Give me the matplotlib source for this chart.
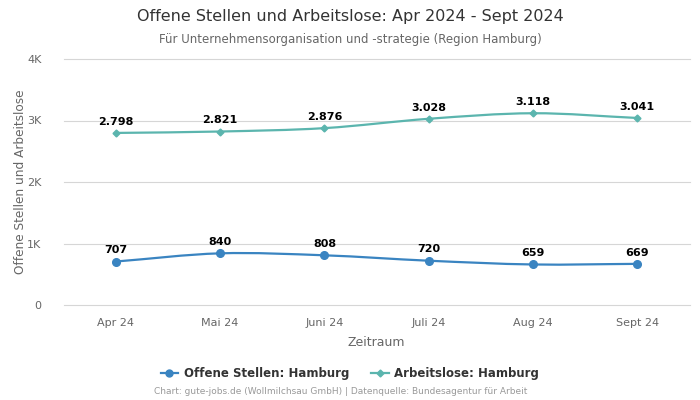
import numpy as np
import matplotlib
matplotlib.use('Agg')
import matplotlib.pyplot as plt
from matplotlib.path import Path
from matplotlib.patches import PathPatch
from matplotlib.lines import Line2D
from matplotlib.ticker import FuncFormatter

months = ['Apr 24', 'Mai 24', 'Juni 24', 'Juli 24', 'Aug 24', 'Sept 24']
offene_stellen = [707, 840, 808, 720, 659, 669]
arbeitslose = [2798, 2821, 2876, 3028, 3118, 3041]

c_os = '#3a84c1'
c_al = '#5bb5ae'


def smooth_path(xs, ys):
    # cubic bezier segments, tangents from neighbours
    xs = np.asarray(xs, float)
    ys = np.asarray(ys, float)
    n = len(xs)
    verts = [(xs[0], ys[0])]
    codes = [Path.MOVETO]
    for i in range(n - 1):
        i0 = max(i - 1, 0)
        i3 = min(i + 2, n - 1)
        m1 = (ys[i + 1] - ys[i0]) / (xs[i + 1] - xs[i0])
        m2 = (ys[i3] - ys[i]) / (xs[i3] - xs[i])
        dx = (xs[i + 1] - xs[i]) / 3.0
        verts += [(xs[i] + dx, ys[i] + m1 * dx),
                  (xs[i + 1] - dx, ys[i + 1] - m2 * dx),
                  (xs[i + 1], ys[i + 1])]
        codes += [Path.CURVE4] * 3
    return Path(verts, codes)


def fmt_de(v):
    return '{:,}'.format(v).replace(',', '.')


fig = plt.figure(figsize=(7, 4), dpi=100)
ax = fig.add_axes([0.091, 0.2375, 0.894, 0.615])

x = np.arange(len(months))
for ys, col, mk, ms in [(offene_stellen, c_os, 'o', 5.5), (arbeitslose, c_al, 'D', 3.5)]:
    ax.add_patch(PathPatch(smooth_path(x, ys), facecolor='none', edgecolor=col, lw=1.6, zorder=3))
    ax.plot(x, ys, ls='none', marker=mk, ms=ms, color=col, zorder=4)
    for xi, yi in zip(x, ys):
        ax.annotate(fmt_de(yi), (xi, yi), xytext=(0, 4.5), textcoords='offset points',
                    ha='center', va='bottom', fontsize=8, fontweight='bold', color='black', zorder=5)

ax.set_xlim(-0.5, len(months) - 0.5)
ax.set_ylim(0, 4000)
ax.set_yticks([0, 1000, 2000, 3000, 4000])
ax.yaxis.set_major_formatter(FuncFormatter(lambda v, p: '0' if v == 0 else '%dK' % (v / 1000)))
ax.set_xticks(x)
ax.set_xticklabels(months)
ax.tick_params(axis='both', length=0, labelsize=8, colors='#666666')
ax.tick_params(axis='x', pad=9)
ax.tick_params(axis='y', pad=16)
ax.grid(axis='y', color='#d6d6d6', lw=0.8, clip_on=False)
ax.set_axisbelow(True)
for s in ax.spines.values():
    s.set_visible(False)

ax.set_xlabel('Zeitraum', fontsize=9, color='#666666', labelpad=6)
ax.set_ylabel('Offene Stellen und Arbeitslose', fontsize=8.7, color='#666666', labelpad=0)

fig.text(0.5, 0.958, 'Offene Stellen und Arbeitslose: Apr 2024 - Sept 2024', ha='center', va='center',
         fontsize=11.5, color='#333333')
fig.text(0.5, 0.902, 'Für Unternehmensorganisation und -strategie (Region Hamburg)', ha='center', va='center',
         fontsize=8.5, color='#666666')

handles = [Line2D([], [], color=c_os, marker='o', ms=5, lw=1.6),
           Line2D([], [], color=c_al, marker='D', ms=3.5, lw=1.6)]
leg = fig.legend(handles, ['Offene Stellen: Hamburg', 'Arbeitslose: Hamburg'], loc='center',
                 bbox_to_anchor=(0.5, 0.067), ncol=2, frameon=False, handlelength=1.5,
                 handletextpad=0.5, columnspacing=1.8, prop={'weight': 'bold', 'size': 8.5})
for t in leg.get_texts():
    t.set_color('#333333')

fig.text(0.486, 0.02, 'Chart: gute-jobs.de (Wollmilchsau GmbH) | Datenquelle: Bundesagentur für Arbeit',
         ha='center', va='center', fontsize=6.5, color='#999999')

fig.savefig('out.png', dpi=100)
